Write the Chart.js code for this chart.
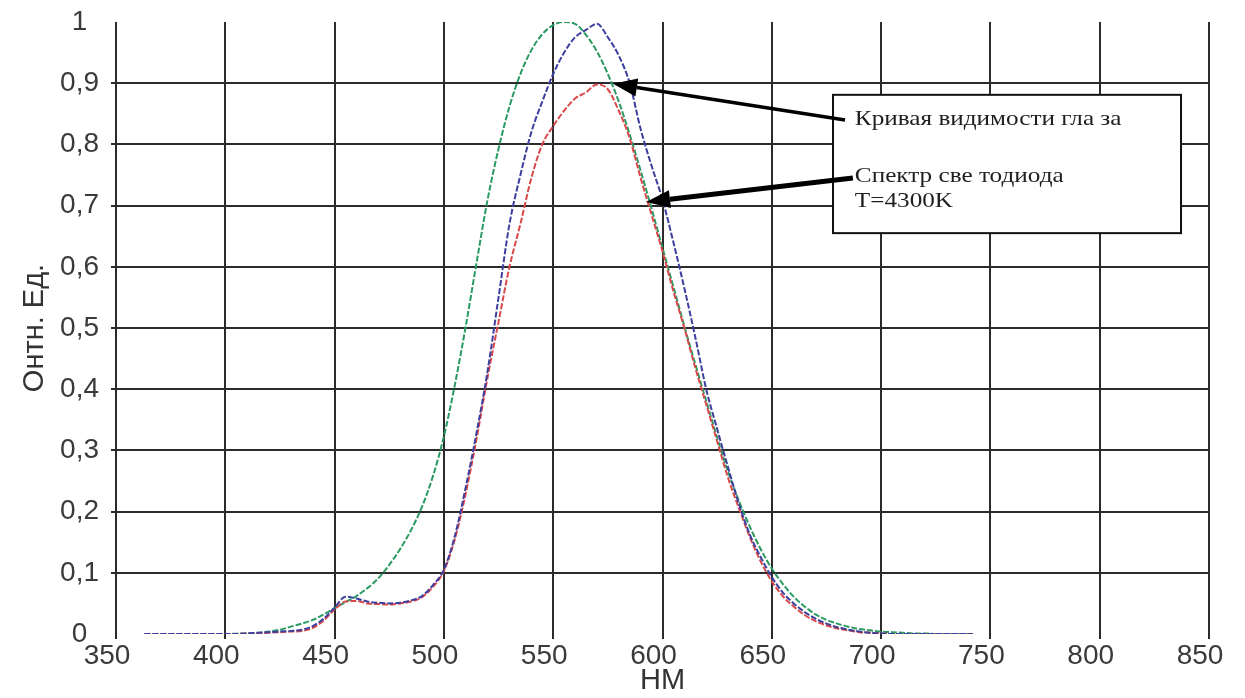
<!DOCTYPE html>
<html>
<head>
<meta charset="utf-8">
<script src="https://cdn.jsdelivr.net/npm/chart.js@4.4.1/dist/chart.umd.min.js"></script>
<style>
  html, body { margin: 0; padding: 0; background: #ffffff; }
  #c { display: block; }
</style>
</head>
<body>
<canvas id="c" width="1245" height="698"></canvas>
<script>
// ---- data ----
const wavelengths = [
  363,370,375,380,385,390,395,400,405,410,
  415,420,425,430,435,440,445,450,455,460,
  465,470,475,480,485,490,495,500,505,510,
  515,520,525,530,535,540,545,550,555,560,
  565,570,575,580,585,590,595,600,605,610,
  615,620,625,630,635,640,645,650,655,660,
  665,670,675,680,685,690,695,700,705,710,
  715,720,725,730,735,742
];
const eyeCurve = [
  0,0,0,0,0,0,0,0,0.0005,0.001,
  0.002,0.004,0.007,0.012,0.017,0.023,0.032,0.042,0.052,0.062,
  0.075,0.091,0.113,0.139,0.170,0.208,0.258,0.323,0.407,0.503,
  0.608,0.710,0.793,0.862,0.915,0.954,0.980,0.995,1.0,0.997,
  0.979,0.952,0.915,0.870,0.816,0.757,0.695,0.631,0.567,0.503,
  0.441,0.381,0.321,0.265,0.217,0.175,0.138,0.107,0.082,0.061,
  0.045,0.032,0.023,0.017,0.012,0.008,0.006,0.004,0.003,0.002,
  0.001,0.001,0,0,0,0
];
const ledBlue = [
  0,0,0,0,0,0,0,0,0,0.001,
  0.002,0.003,0.004,0.005,0.007,0.013,0.025,0.043,0.061,0.058,
  0.053,0.051,0.050,0.051,0.055,0.062,0.080,0.105,0.160,0.240,
  0.330,0.430,0.550,0.670,0.750,0.820,0.870,0.915,0.950,0.975,
  0.987,0.997,0.975,0.945,0.900,0.825,0.765,0.710,0.640,0.565,
  0.485,0.400,0.335,0.272,0.212,0.162,0.125,0.093,0.068,0.050,
  0.036,0.025,0.017,0.011,0.007,0.004,0.002,0.001,0,0,
  0,0,0,0,0,0
];
const ledRed = [
  0,0,0,0,0,0,0,0,0,0.001,
  0.001,0.002,0.003,0.004,0.005,0.010,0.022,0.040,0.053,0.054,
  0.050,0.049,0.048,0.050,0.053,0.060,0.077,0.103,0.155,0.230,
  0.320,0.420,0.510,0.600,0.670,0.745,0.800,0.830,0.855,0.875,
  0.885,0.898,0.890,0.855,0.810,0.745,0.685,0.625,0.560,0.500,
  0.435,0.375,0.315,0.255,0.205,0.158,0.118,0.086,0.062,0.045,
  0.031,0.021,0.014,0.009,0.006,0.003,0.002,0.001,0,0,
  0,0,0,0,0,0
];
const xTicks = [350,400,450,500,550,600,650,700,750,800,850];
const yTicks = [0,0.1,0.2,0.3,0.4,0.5,0.6,0.7,0.8,0.9,1];
const xTitle = 'НМ';
const yTitle = 'Онтн. Ед.';

// callout (data coordinates)
const calloutBox = { left: 678, right: 837.2, top: 0.881, bottom: 0.655 };
const calloutLines = [
  { text: 'Кривая видимости гла за', x: 688, y: 0.832 },
  { text: 'Спектр све тодиода',      x: 688, y: 0.739 },
  { text: 'T=4300K',                 x: 688, y: 0.698 }
];
const calloutArrows = [
  { from: [683.5, 0.840], to: [577.4, 0.899], width: 3.5 },
  { from: [687.1, 0.745], to: [592.5, 0.706], width: 5 }
];

// ---- build ----
const toPts = vals => wavelengths.map((w, i) => ({ x: w, y: vals[i] }));

const calloutPlugin = {
  id: 'callout',
  afterDatasetsDraw(chart) {
    const { ctx, scales: { x, y } } = chart;
    ctx.save();
    const L = x.getPixelForValue(calloutBox.left), R = x.getPixelForValue(calloutBox.right);
    const T = y.getPixelForValue(calloutBox.top), B = y.getPixelForValue(calloutBox.bottom);
    ctx.fillStyle = '#ffffff';
    ctx.fillRect(L, T, R - L, B - T);
    ctx.strokeStyle = '#111';
    ctx.lineWidth = 2;
    ctx.strokeRect(L, T, R - L, B - T);
    ctx.fillStyle = '#1e1e1e';
    ctx.font = '21px "Liberation Serif", "DejaVu Serif", serif';
    ctx.textBaseline = 'alphabetic';
    calloutLines.forEach(l => {
      const px = x.getPixelForValue(l.x), py = y.getPixelForValue(l.y);
      ctx.save();
      ctx.translate(px, py);
      ctx.scale(1.2, 1);
      ctx.fillText(l.text, 0, 0);
      ctx.restore();
    });
    calloutArrows.forEach(a => {
      const x0 = x.getPixelForValue(a.from[0]), y0 = y.getPixelForValue(a.from[1]);
      const x1 = x.getPixelForValue(a.to[0]), y1 = y.getPixelForValue(a.to[1]);
      const ang = Math.atan2(y1 - y0, x1 - x0);
      const hl = 24, hw = 9;
      const bx = x1 - hl * Math.cos(ang), by = y1 - hl * Math.sin(ang);
      ctx.strokeStyle = '#000';
      ctx.lineWidth = a.width;
      ctx.beginPath();
      ctx.moveTo(x0, y0);
      ctx.lineTo(bx, by);
      ctx.stroke();
      ctx.fillStyle = '#000';
      ctx.beginPath();
      ctx.moveTo(x1, y1);
      ctx.lineTo(bx + hw * Math.sin(ang), by - hw * Math.cos(ang));
      ctx.lineTo(bx - hw * Math.sin(ang), by + hw * Math.cos(ang));
      ctx.closePath();
      ctx.fill();
    });
    ctx.restore();
  }
};

const gridCol = '#2b2b2b';
const xTickFont = { family: '"Liberation Sans", Arial, sans-serif', size: 28, lineHeight: 1.2 };
const yTickFont = { family: '"Liberation Sans", Arial, sans-serif', size: 28, lineHeight: 0.6 };

new Chart(document.getElementById('c'), {
  type: 'line',
  data: {
    datasets: [
      { label: 'LED blue', data: toPts(ledBlue), borderColor: '#3d3f9e', borderWidth: 2, borderDash: [6, 2] },
      { label: 'LED red', data: toPts(ledRed), borderColor: '#d9484a', borderWidth: 2, borderDash: [6, 2] },
      { label: 'Eye', data: toPts(eyeCurve), borderColor: '#2a9a62', borderWidth: 2, borderDash: [6, 2] }
    ]
  },
  options: {
    responsive: false,
    animation: false,
    parsing: true,
    elements: { point: { radius: 0 }, line: { tension: 0.3, cubicInterpolationMode: 'monotone' } },
    layout: { padding: { top: 22, right: 36, left: 0, bottom: 0 } },
    plugins: { legend: { display: false }, tooltip: { enabled: false } },
    scales: {
      x: {
        type: 'linear',
        min: 350, max: 850,
        afterBuildTicks: s => { s.ticks = xTicks.map(v => ({ value: v })); },
        afterFit: s => { s.height = 64; },
        grid: { color: gridCol, lineWidth: 2, tickLength: 5, drawTicks: true },
        border: { display: false },
        ticks: { font: xTickFont, color: '#3a3a3a', padding: 0, labelOffset: -9, maxRotation: 0, autoSkip: false },
        title: { display: true, text: xTitle, font: { family: '"Liberation Sans", Arial, sans-serif', size: 29 }, color: '#333', padding: { top: 0, bottom: 0 } }
      },
      y: {
        type: 'linear',
        min: 0, max: 1,
        afterBuildTicks: s => { s.ticks = yTicks.map(v => ({ value: v })); },
        afterFit: s => { s.width = 116; },
        grid: {
          color: c => (c.tick && (c.tick.value < 0.05 || c.tick.value > 0.95)) ? 'rgba(0,0,0,0)' : gridCol,
          lineWidth: 2, tickLength: 5
        },
        border: { display: false },
        ticks: {
          font: yTickFont, color: '#3a3a3a', padding: 12, crossAlign: 'center',
          callback: v => (Math.abs(v) < 1e-9 ? '0' : Math.abs(v - 1) < 1e-9 ? '1' : v.toFixed(1).replace('.', ','))
        },
        title: { display: true, text: yTitle, font: { family: '"Liberation Sans", Arial, sans-serif', size: 29 }, color: '#333', padding: { top: 18, bottom: 0 } }
      }
    }
  },
  plugins: [calloutPlugin]
});
</script>
</body>
</html>
